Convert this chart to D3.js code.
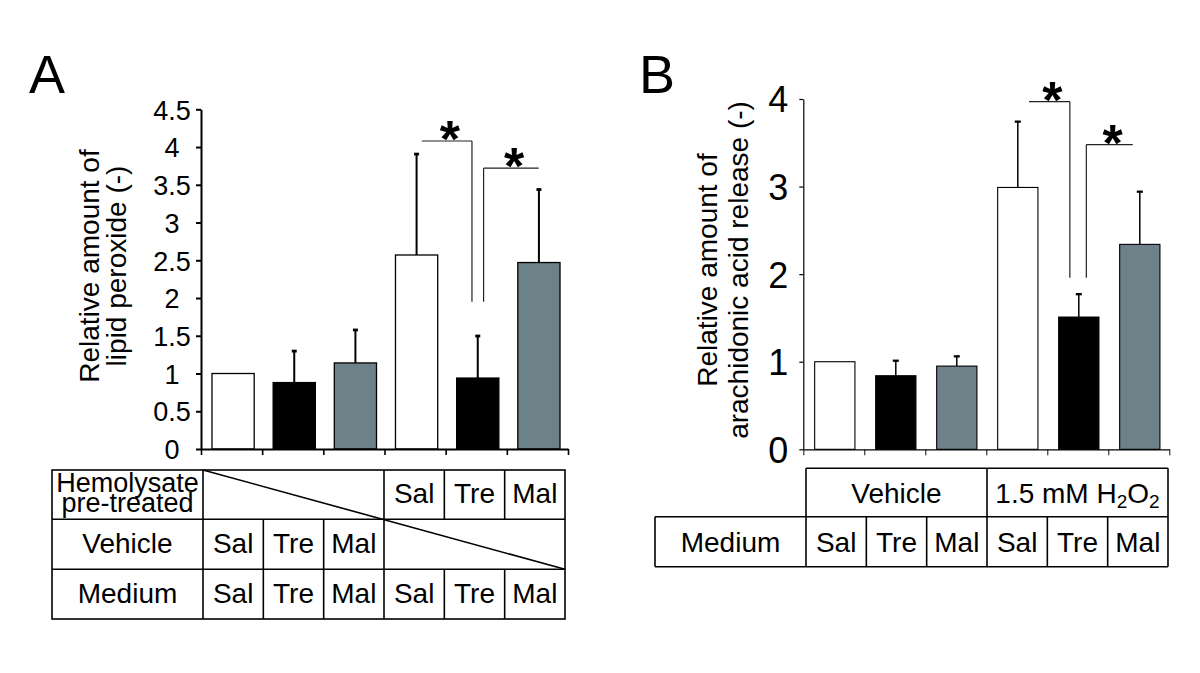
<!DOCTYPE html>
<html><head><meta charset="utf-8">
<script src="https://cdn.jsdelivr.net/npm/d3@7"></script>
<style>
body{margin:0;background:#fff}
svg{display:block}
text{font-family:"Liberation Sans",Arial,Helvetica,sans-serif;fill:#000}
</style>
</head><body>
<svg id="chart" width="1200" height="673"></svg>
<script>
// ---------- data ----------
const categories = ["Sal", "Tre", "Mal", "Sal", "Tre", "Mal"];

// Panel A: relative amount of lipid peroxide
const lipidMeans = [1.00, 0.88, 1.14, 2.57, 0.94, 2.47];
const lipidSD    = [0.00, 0.43, 0.45, 1.35, 0.57, 0.98];
const lipidTicks = [0, 0.5, 1, 1.5, 2, 2.5, 3, 3.5, 4, 4.5];
const lipidTitle = ["Relative amount of", "lipid peroxide (-)"];
// significance brackets: [start position, end position, height, drop-to, side of drop]
const lipidSig = [[3.61, 4.43, 4.08, 1.95, "right"], [4.62, 5.52, 3.72, 1.95, "left"]];

// Panel B: relative amount of arachidonic acid release
const araMeans = [1.00, 0.84, 0.95, 2.99, 1.51, 2.34];
const araSD    = [0.00, 0.18, 0.12, 0.76, 0.27, 0.61];
const araTicks = [0, 1, 2, 3, 4];
const araTitle = ["Relative amount of", "arachidonic acid release (-)"];
const araSig = [[3.70, 4.37, 3.97, 1.96, "right"], [4.64, 5.40, 3.48, 1.96, "left"]];

// Table labels
const tableARowLabels = ["Vehicle", "Medium"];
const hemolysateLabel = ["Hemolysate", "pre-treated"];
const hemolysateRow = ["", "", "", "Sal", "Tre", "Mal"];
const vehicleRow    = ["Sal", "Tre", "Mal", "", "", ""];
const mediumRow     = ["Sal", "Tre", "Mal", "Sal", "Tre", "Mal"];
const tableBGroups  = ["Vehicle", "1.5 mM H2O2"];

// ---------- styles ----------
const barFill = ["#ffffff", "#000000", "#6d8189", "#ffffff", "#000000", "#6d8189"];

const svg = d3.select("#chart");

function drawPanel(o) {
  const g = svg.append("g");
  const y = d3.scaleLinear().domain([0, o.ticks[o.ticks.length - 1]]).range([o.y0, o.y1]);
  const xIdx = d3.scaleLinear().domain([0, 6]).range([o.x0, o.x1]);
  const xb = d3.scaleBand().domain(d3.range(6)).range([o.x0, o.x1])
    .paddingInner(o.pad).paddingOuter(o.pad / 2);

  // bars
  g.selectAll("rect.bar").data(o.means).join("rect")
    .attr("class", "bar")
    .attr("x", (d, i) => xb(i) + o.shift)
    .attr("width", xb.bandwidth())
    .attr("y", d => y(d))
    .attr("height", d => y(0) - y(d))
    .attr("fill", (d, i) => barFill[i])
    .attr("stroke", "#000").attr("stroke-width", o.barStroke);

  // error bars
  const eb = g.selectAll("g.err").data(o.means.map((m, i) => [m, o.sd[i], i]).filter(d => d[1] > 0))
    .join("g").attr("class", "err");
  eb.append("line")
    .attr("x1", d => xb(d[2]) + xb.bandwidth() / 2 + o.shift)
    .attr("x2", d => xb(d[2]) + xb.bandwidth() / 2 + o.shift)
    .attr("y1", d => y(d[0])).attr("y2", d => y(d[0] + d[1]))
    .attr("stroke", "#000").attr("stroke-width", o.errW);
  eb.append("line")
    .attr("x1", d => xb(d[2]) + xb.bandwidth() / 2 + o.shift - o.cap)
    .attr("x2", d => xb(d[2]) + xb.bandwidth() / 2 + o.shift + o.cap)
    .attr("y1", d => y(d[0] + d[1]) + o.errW / 2).attr("y2", d => y(d[0] + d[1]) + o.errW / 2)
    .attr("stroke", "#000").attr("stroke-width", o.errW + 0.8);

  // y axis
  const ya = g.append("g").attr("transform", `translate(${o.x0},0)`)
    .call(d3.axisLeft(y).tickValues(o.ticks).tickSize(o.yTick).tickSizeOuter(0).tickFormat(d3.format("")));
  ya.select(".domain").attr("stroke-width", o.axisW);
  ya.selectAll(".tick line").attr("stroke-width", o.axisW);
  ya.selectAll(".tick text").attr("x", -o.labelOff).attr("text-anchor", "middle")
    .attr("font-size", o.tickFont).attr("font-family", null).attr("dy", "0.36em");

  // x axis (category separators)
  const xa = g.append("g").attr("transform", `translate(0,${o.y0})`)
    .call(d3.axisBottom(xIdx).tickValues(d3.range(7)).tickSize(6).tickSizeOuter(0).tickFormat(""));
  xa.select(".domain").attr("stroke-width", o.axisW);
  xa.selectAll(".tick line").attr("stroke-width", o.axisW * 0.8);

  // title
  o.title.forEach((t, i) => {
    g.append("text").attr("transform", `translate(${o.titleX[i]},${o.titleY}) rotate(-90)`)
      .attr("text-anchor", "middle").attr("font-size", 28).text(t);
  });

  // panel letter
  g.append("text").attr("x", o.letterX).attr("y", 93).attr("font-size", 54).text(o.letter);

  // significance brackets
  o.sig.forEach(s => {
    const xa1 = xIdx(s[0]), xa2 = xIdx(s[1]), yy = y(s[2]), yd = y(s[3]);
    const xv = s[4] === "right" ? xa2 : xa1;
    g.append("path").attr("d", `M${xa1},${yy}H${xa2}M${xv},${yy}V${yd}`)
      .attr("fill", "none").attr("stroke", "#222").attr("stroke-width", 1.2);
    g.append("text").attr("x", (xa1 + xa2) / 2 + 3).attr("y", yy + 16)
      .attr("text-anchor", "middle").attr("font-size", 52).attr("font-weight", "bold").text("*");
  });
  return g;
}

drawPanel({
  means: lipidMeans, sd: lipidSD, ticks: lipidTicks, title: lipidTitle, sig: lipidSig,
  x0: 201, x1: 568, y0: 449, y1: 109.3, pad: 0.31, shift: 1.5,
  barStroke: 1.3, errW: 2, cap: 2.5, axisW: 2, yTick: 5, labelOff: 29, tickFont: 27,
  titleX: [99, 126], titleY: 266, letter: "A", letterX: 29
});
drawPanel({
  means: araMeans, sd: araSD, ticks: araTicks, title: araTitle, sig: araSig,
  x0: 803.3, x1: 1169.3, y0: 449.3, y1: 99, pad: 0.34, shift: 1,
  barStroke: 1.1, errW: 1.5, cap: 3, axisW: 1.2, yTick: 4, labelOff: 25, tickFont: 36,
  titleX: [717, 748], titleY: 270, letter: "B", letterX: 639
});

// ---------- table A ----------
(function () {
  const g = svg.append("g").attr("fill", "none");
  const tx = d3.scaleLinear().domain([0, 6]).range([203, 565]);
  const rows = [470, 519.3, 569.3, 619];
  const L = 52;
  const ln = (x1, y1, x2, y2) => g.append("line").attr("x1", x1).attr("y1", y1).attr("x2", x2).attr("y2", y2)
    .attr("stroke", "#000").attr("stroke-width", 1.6);
  g.append("rect").attr("x", L).attr("y", rows[0]).attr("width", tx(6) - L).attr("height", rows[3] - rows[0])
    .attr("fill", "none").attr("stroke", "#000").attr("stroke-width", 1.6);
  ln(L, rows[1], tx(6), rows[1]);
  ln(L, rows[2], tx(6), rows[2]);
  ln(tx(0), rows[0], tx(0), rows[3]);
  ln(tx(3), rows[0], tx(3), rows[3]);
  [1, 2].forEach(i => ln(tx(i), rows[1], tx(i), rows[3]));
  [4, 5].forEach(i => { ln(tx(i), rows[0], tx(i), rows[1]); ln(tx(i), rows[2], tx(i), rows[3]); });
  ln(tx(0), rows[0], tx(6), rows[2]);

  const t = svg.append("g").attr("font-size", 28).attr("text-anchor", "middle");
  const lx = (L + tx(0)) / 2;
  const hl = t.append("text").attr("x", lx).attr("y", 492).attr("font-size", 27);
  hl.append("tspan").attr("x", lx).text(hemolysateLabel[0]);
  hl.append("tspan").attr("x", lx).attr("dy", 20).text(hemolysateLabel[1]);
  t.append("text").attr("x", lx).attr("y", 553).text(tableARowLabels[0]);
  t.append("text").attr("x", lx).attr("y", 603).text(tableARowLabels[1]);
  [[hemolysateRow, 503], [vehicleRow, 553], [mediumRow, 603]].forEach(([row, yy]) => {
    row.forEach((c, i) => {
      if (c) t.append("text").attr("x", (tx(i) + tx(i + 1)) / 2).attr("y", yy).text(c);
    });
  });
})();

// ---------- table B ----------
(function () {
  const g = svg.append("g");
  const tx = d3.scaleLinear().domain([0, 6]).range([806, 1168]);
  const rows = [468.3, 516.7, 566.7];
  const L = 655;
  const ln = (x1, y1, x2, y2) => g.append("line").attr("x1", x1).attr("y1", y1).attr("x2", x2).attr("y2", y2)
    .attr("stroke", "#000").attr("stroke-width", 1.6);
  ln(tx(0), rows[0], tx(6), rows[0]);
  ln(L, rows[1], tx(6), rows[1]);
  ln(L, rows[2], tx(6), rows[2]);
  ln(L, rows[1], L, rows[2]);
  ln(tx(0), rows[0], tx(0), rows[2]);
  ln(tx(3), rows[0], tx(3), rows[2]);
  ln(tx(6), rows[0], tx(6), rows[2]);
  [1, 2, 4, 5].forEach(i => ln(tx(i), rows[1], tx(i), rows[2]));

  const t = svg.append("g").attr("font-size", 28).attr("text-anchor", "middle");
  t.append("text").attr("x", (tx(0) + tx(3)) / 2).attr("y", 503).text(tableBGroups[0]);
  const h = t.append("text").attr("x", (tx(3) + tx(6)) / 2).attr("y", 503);
  const m = tableBGroups[1].match(/^(.*H)2O2$/);
  h.append("tspan").text(m[1]);
  h.append("tspan").attr("font-size", 19).attr("dy", 5).text("2");
  h.append("tspan").attr("dy", -5).text("O");
  h.append("tspan").attr("font-size", 19).attr("dy", 5).text("2");
  t.append("text").attr("x", (L + tx(0)) / 2).attr("y", 552).text(tableARowLabels[1]);
  mediumRow.forEach((c, i) => t.append("text").attr("x", (tx(i) + tx(i + 1)) / 2).attr("y", 552).text(c));
})();
</script>
</body></html>
